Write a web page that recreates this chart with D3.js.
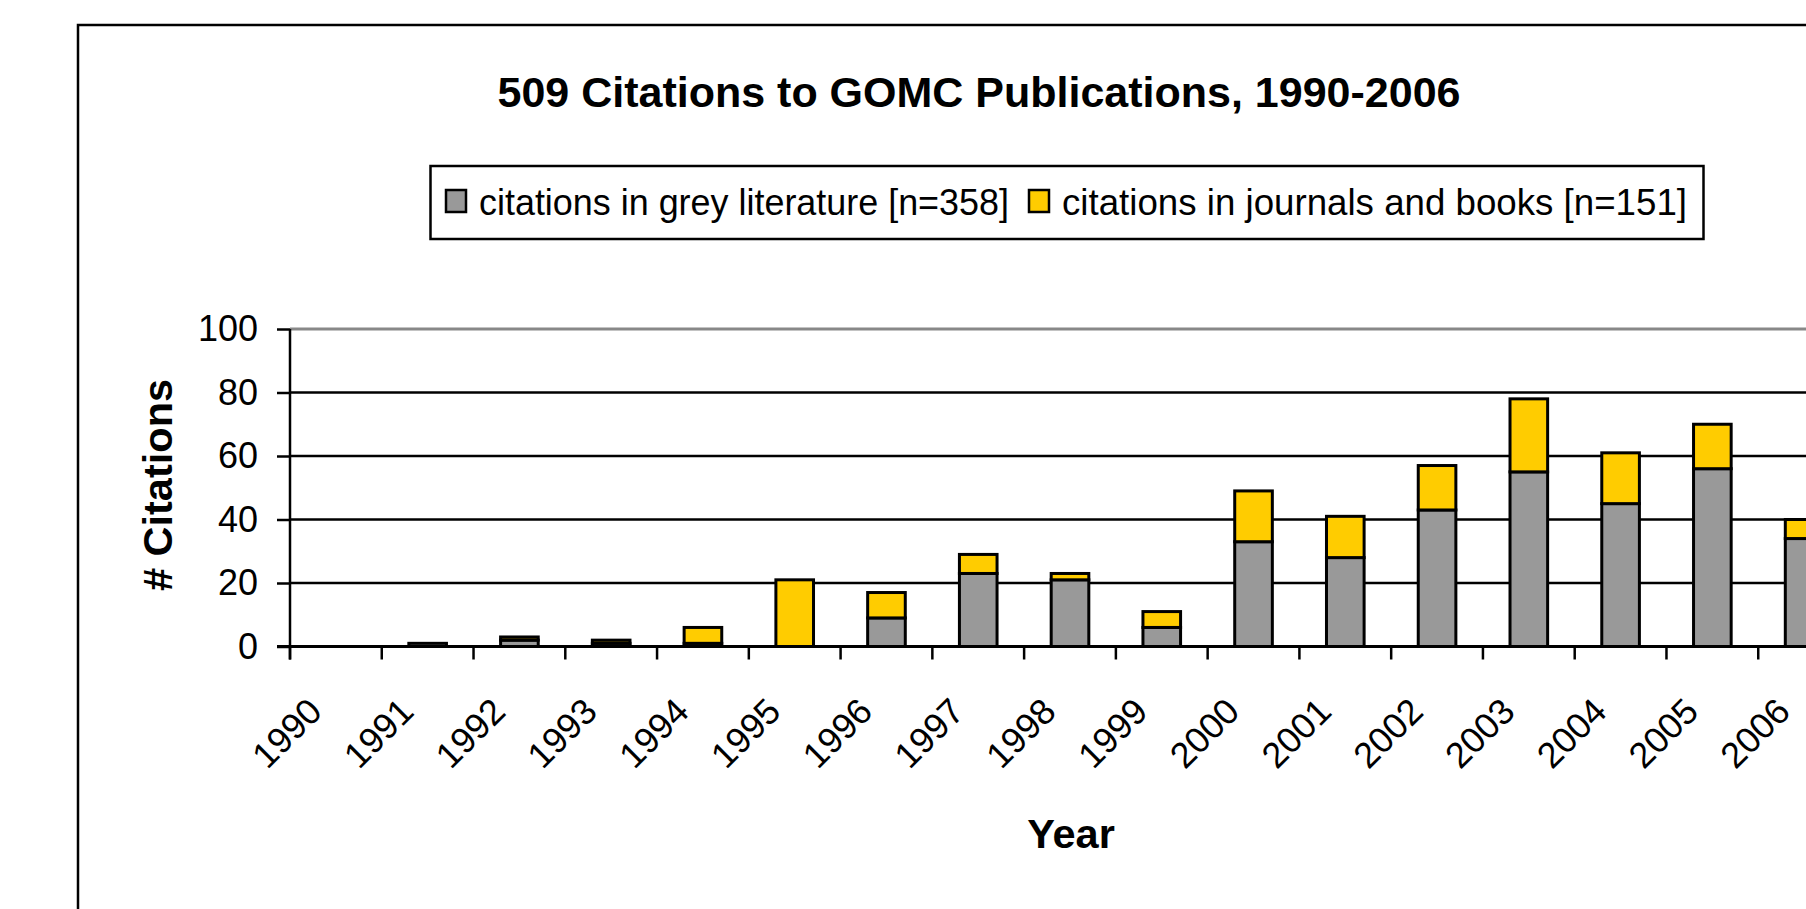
<!DOCTYPE html>
<html>
<head>
<meta charset="utf-8">
<script src="https://cdn.jsdelivr.net/npm/d3@7"></script>
<style>
  body { margin: 0; background: #fff; }
  svg { display: block; font-family: "Liberation Sans", Arial, sans-serif; }
</style>
</head>
<body>
<script>
// chart values
var years = ["1990", "1991", "1992", "1993", "1994", "1995", "1996", "1997", "1998",
             "1999", "2000", "2001", "2002", "2003", "2004", "2005", "2006"];
var greyLit = [0, 1, 2, 1, 1, 0, 9, 23, 21, 6, 33, 28, 43, 55, 45, 56, 34];
var journals = [0, 0, 1, 1, 5, 21, 8, 6, 2, 5, 16, 13, 14, 23, 16, 14, 6];
var seriesNames = ["citations in grey literature [n=358]", "citations in journals and books [n=151]"];
var yTicks = [0, 20, 40, 60, 80, 100];

var width = 1806, height = 909;
var plot = { left: 290, right: 1850, top: 329, bottom: 646.5 };
var colors = ["#999999", "#ffcc00"];

var svg = d3.select("body").append("svg")
    .attr("width", width)
    .attr("height", height);

// outer chart frame (runs off the right and bottom edges)
svg.append("rect")
    .attr("x", 78).attr("y", 25)
    .attr("width", 1900).attr("height", 1000)
    .attr("fill", "#fff")
    .attr("stroke", "#000")
    .attr("stroke-width", 2.5);

var x = d3.scaleBand()
    .domain(years)
    .range([plot.left, plot.right])
    .paddingInner(0.59)
    .paddingOuter(0.295);

var y = d3.scaleLinear()
    .domain([0, 100])
    .range([plot.bottom, plot.top]);

// gridlines
svg.append("g")
    .selectAll("line")
    .data(yTicks.filter(function (d) { return d > 0; }))
    .enter().append("line")
    .attr("x1", plot.left).attr("x2", plot.right)
    .attr("y1", function (d) { return y(d); })
    .attr("y2", function (d) { return y(d); })
    .attr("stroke", function (d) { return d === 100 ? "#888" : "#000"; })
    .attr("stroke-width", function (d) { return d === 100 ? 3 : 2.5; });

// stacked bars
var rows = years.map(function (yr, i) {
    return { year: yr, grey: greyLit[i], journal: journals[i] };
});
var stack = d3.stack().keys(["grey", "journal"]);
var layers = stack(rows);

svg.append("g")
    .selectAll("g")
    .data(layers)
    .enter().append("g")
    .attr("fill", function (d, i) { return colors[i]; })
    .selectAll("rect")
    .data(function (d) { return d.filter(function (p) { return p[1] - p[0] > 0; }); })
    .enter().append("rect")
    .attr("x", function (d) { return x(d.data.year); })
    .attr("width", x.bandwidth())
    .attr("y", function (d) { return y(d[1]); })
    .attr("height", function (d) { return y(d[0]) - y(d[1]); })
    .attr("stroke", "#000")
    .attr("stroke-width", 3);

// y axis
var yAxis = svg.append("g")
    .attr("transform", "translate(" + plot.left + ",0)")
    .call(d3.axisLeft(y).tickValues(yTicks).tickSize(13).tickPadding(19));
yAxis.select(".domain").attr("stroke", "#000").attr("stroke-width", 2.5)
    .attr("d", "M0," + (plot.top) + "V" + (plot.bottom + 13));
yAxis.selectAll(".tick line").attr("stroke", "#000").attr("stroke-width", 2.5);
yAxis.selectAll(".tick text")
    .attr("font-size", 36)
    .attr("fill", "#000")
    .attr("font-family", "Liberation Sans, Arial, sans-serif");

// x axis: ticks sit on the category boundaries
var xAxis = svg.append("g")
    .attr("transform", "translate(0," + plot.bottom + ")");
xAxis.append("line")
    .attr("x1", plot.left - 13).attr("x2", plot.right)
    .attr("y1", 0).attr("y2", 0)
    .attr("stroke", "#000").attr("stroke-width", 3);
xAxis.selectAll(".xtick")
    .data(years)
    .enter().append("line")
    .attr("class", "xtick")
    .attr("x1", function (d) { return x(d) - x.step() * x.paddingOuter(); })
    .attr("x2", function (d) { return x(d) - x.step() * x.paddingOuter(); })
    .attr("y1", 0).attr("y2", 13)
    .attr("stroke", "#000").attr("stroke-width", 2.5);
xAxis.selectAll(".xlabel")
    .data(years)
    .enter().append("text")
    .attr("class", "xlabel")
    .attr("text-anchor", "end")
    .attr("font-size", 36)
    .attr("transform", function (d) {
        return "translate(" + (x(d) + x.bandwidth() / 2 - 12) + ",67) rotate(-45)";
    })
    .text(function (d) { return d; });

// titles
svg.append("text")
    .attr("x", 979).attr("y", 107)
    .attr("text-anchor", "middle")
    .attr("font-size", 43)
    .attr("font-weight", "bold")
    .text("509 Citations to GOMC Publications, 1990-2006");

svg.append("text")
    .attr("transform", "translate(172,485) rotate(-90)")
    .attr("text-anchor", "middle")
    .attr("font-size", 41.5)
    .attr("font-weight", "bold")
    .text("# Citations");

svg.append("text")
    .attr("x", 1071).attr("y", 848)
    .attr("text-anchor", "middle")
    .attr("font-size", 41.5)
    .attr("font-weight", "bold")
    .text("Year");

// legend
var legend = svg.append("g");
legend.append("rect")
    .attr("x", 430.5).attr("y", 166)
    .attr("width", 1273).attr("height", 73)
    .attr("fill", "#fff")
    .attr("stroke", "#000")
    .attr("stroke-width", 2.5);

var legendX = [446, 1029];
var legendTextX = [479, 1062];
var legendW = [530, 625];
seriesNames.forEach(function (name, i) {
    legend.append("rect")
        .attr("x", legendX[i]).attr("y", 190)
        .attr("width", 20).attr("height", 22)
        .attr("fill", colors[i])
        .attr("stroke", "#000")
        .attr("stroke-width", 2.5);
    legend.append("text")
        .attr("x", legendTextX[i]).attr("y", 215)
        .attr("font-size", 36)
        .attr("textLength", legendW[i])
        .attr("lengthAdjust", "spacingAndGlyphs")
        .text(name);
});
</script>
</body>
</html>
